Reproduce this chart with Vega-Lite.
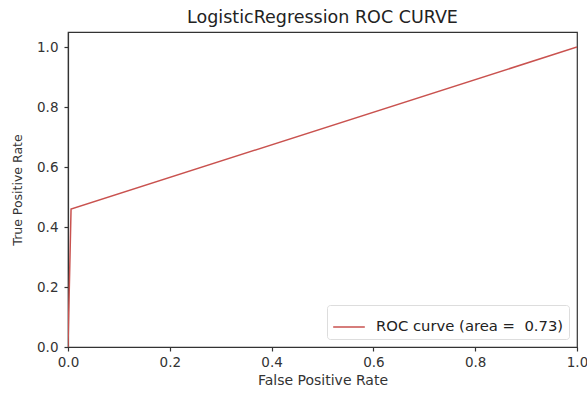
{
  "$schema": "https://vega.github.io/schema/vega-lite/v6.json",
  "width": 509,
  "height": 315,
  "autosize": {"type": "none"},
  "padding": {"left": 68, "top": 32, "right": 10, "bottom": 49},
  "background": "white",
  "config": {
    "font": "DejaVu Sans",
    "view": {"stroke": "#333", "strokeWidth": 1.2},
    "axis": {
      "grid": false, "domainColor": "#333", "domainWidth": 1.2, "tickColor": "#333", "tickSize": 4, "tickWidth": 1.2,
      "labelFont": "DejaVu Sans", "labelFontSize": 13.5, "labelColor": "#333", "labelFlush": false,
      "titleFont": "DejaVu Sans", "titleFontSize": 14, "titleFontWeight": "normal", "titleColor": "#333"
    }
  },
  "title": {"text": "LogisticRegression ROC CURVE", "fontSize": 17.5, "fontWeight": "normal", "font": "DejaVu Sans", "color": "#222", "offset": 6},
  "data": {"values": [
    {"fpr": 0.0, "tpr": 0.0, "series": "ROC curve (area =\u00a0 0.73)"},
    {"fpr": 0.006, "tpr": 0.46, "series": "ROC curve (area =\u00a0 0.73)"},
    {"fpr": 1.0, "tpr": 1.0, "series": "ROC curve (area =\u00a0 0.73)"}
  ]},
  "mark": {"type": "line", "strokeWidth": 1.5, "clip": true},
  "encoding": {
    "x": {"field": "fpr", "type": "quantitative", "title": "False Positive Rate",
      "scale": {"domain": [0, 1], "nice": false, "zero": false},
      "axis": {"values": [0, 0.2, 0.4, 0.6, 0.8, 1.0], "format": ".1f", "labelPadding": 4, "titlePadding": 5}},
    "y": {"field": "tpr", "type": "quantitative", "title": "True Positive Rate",
      "scale": {"domain": [0, 1.05], "nice": false, "zero": false},
      "axis": {"values": [0, 0.2, 0.4, 0.6, 0.8, 1.0], "format": ".1f", "labelPadding": 6, "titleFontSize": 12.5, "titlePadding": 12}},
    "color": {"field": "series", "type": "nominal",
      "scale": {"range": ["#c9524f"]},
      "legend": {"title": null, "orient": "bottom-right", "offset": 8,
        "symbolType": "stroke", "symbolSize": 1000, "symbolStrokeWidth": 1.5,
        "labelFontSize": 14.8, "labelFont": "DejaVu Sans", "labelColor": "#222", "labelLimit": 0,
        "fillColor": "white", "strokeColor": "#ddd", "cornerRadius": 3, "padding": 5,
        "labelOffset": 10}}
  }
}
